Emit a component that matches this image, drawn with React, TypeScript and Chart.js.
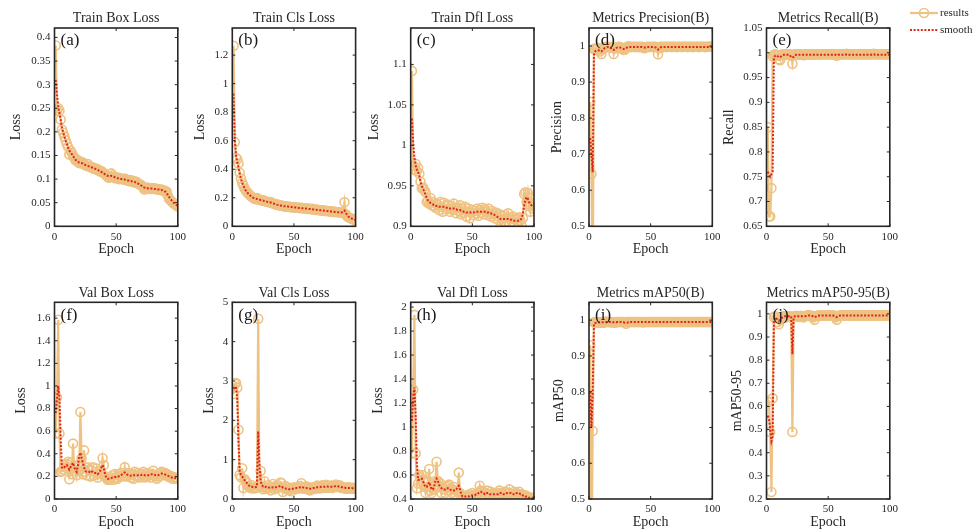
import React, { useEffect, useRef } from 'react';
import { Chart, registerables } from 'chart.js';

Chart.register(...registerables);

// ---------------- data ----------------
const epochs = [
  1, 2, 3, 4, 5, 6, 7, 8, 9, 10, 11, 12, 13, 14, 15, 16, 17, 18, 19, 20,
  21, 22, 23, 24, 25, 26, 27, 28, 29, 30, 31, 32, 33, 34, 35, 36, 37, 38, 39, 40,
  41, 42, 43, 44, 45, 46, 47, 48, 49, 50, 51, 52, 53, 54, 55, 56, 57, 58, 59, 60,
  61, 62, 63, 64, 65, 66, 67, 68, 69, 70, 71, 72, 73, 74, 75, 76, 77, 78, 79, 80,
  81, 82, 83, 84, 85, 86, 87, 88, 89, 90, 91, 92, 93, 94, 95, 96, 97, 98, 99, 100,
];
const epochTicks = [0, 50, 100];

const trainBoxResults = [
  0.383, 0.245, 0.250, 0.245, 0.226, 0.205, 0.198, 0.190, 0.182, 0.175,
  0.168, 0.152, 0.160, 0.155, 0.150, 0.145, 0.140, 0.142, 0.136, 0.134,
  0.137, 0.133, 0.135, 0.131, 0.130, 0.128, 0.132, 0.127, 0.126, 0.124,
  0.125, 0.122, 0.123, 0.120, 0.121, 0.118, 0.116, 0.117, 0.114, 0.113,
  0.110, 0.108, 0.105, 0.103, 0.106, 0.112, 0.108, 0.104, 0.102, 0.104,
  0.103, 0.100, 0.102, 0.101, 0.100, 0.099, 0.101, 0.098, 0.097, 0.096,
  0.098, 0.095, 0.097, 0.094, 0.093, 0.095, 0.092, 0.090, 0.089, 0.088,
  0.085, 0.083, 0.078, 0.080, 0.082, 0.080, 0.081, 0.079, 0.080, 0.081,
  0.079, 0.080, 0.078, 0.079, 0.078, 0.077, 0.078, 0.076, 0.074, 0.075,
  0.073, 0.064, 0.058, 0.055, 0.053, 0.050, 0.048, 0.046, 0.044, 0.042,
];
const trainBoxSmooth = [
  0.310, 0.280, 0.255, 0.240, 0.225, 0.210, 0.200, 0.190, 0.182, 0.175,
  0.167, 0.160, 0.157, 0.153, 0.149, 0.145, 0.141, 0.139, 0.137, 0.135,
  0.135, 0.134, 0.133, 0.131, 0.130, 0.129, 0.128, 0.127, 0.126, 0.125,
  0.124, 0.123, 0.122, 0.121, 0.120, 0.118, 0.117, 0.115, 0.114, 0.112,
  0.110, 0.108, 0.107, 0.106, 0.106, 0.107, 0.106, 0.105, 0.104, 0.103,
  0.102, 0.101, 0.101, 0.100, 0.100, 0.099, 0.099, 0.098, 0.097, 0.097,
  0.096, 0.096, 0.095, 0.094, 0.094, 0.093, 0.092, 0.090, 0.089, 0.087,
  0.085, 0.083, 0.082, 0.081, 0.081, 0.080, 0.080, 0.080, 0.080, 0.080,
  0.079, 0.079, 0.079, 0.078, 0.078, 0.077, 0.077, 0.076, 0.075, 0.073,
  0.070, 0.066, 0.062, 0.058, 0.055, 0.052, 0.049, 0.047, 0.045, 0.043,
];
const trainBoxTicks = [0, 0.05, 0.1, 0.15, 0.2, 0.25, 0.3, 0.35, 0.4];

const trainClsResults = [
  1.265, 0.590, 0.480, 0.470, 0.440, 0.375, 0.335, 0.305, 0.285, 0.265,
  0.250, 0.240, 0.228, 0.220, 0.212, 0.205, 0.200, 0.195, 0.190, 0.198,
  0.192, 0.186, 0.184, 0.180, 0.182, 0.178, 0.176, 0.172, 0.170, 0.168,
  0.170, 0.165, 0.160, 0.158, 0.155, 0.150, 0.152, 0.148, 0.145, 0.146,
  0.142, 0.140, 0.138, 0.141, 0.137, 0.135, 0.136, 0.134, 0.133, 0.135,
  0.132, 0.130, 0.131, 0.129, 0.128, 0.130, 0.127, 0.125, 0.126, 0.124,
  0.122, 0.125, 0.121, 0.120, 0.122, 0.118, 0.117, 0.115, 0.116, 0.114,
  0.113, 0.111, 0.112, 0.110, 0.108, 0.109, 0.107, 0.105, 0.106, 0.104,
  0.103, 0.101, 0.102, 0.100, 0.099, 0.100, 0.098, 0.097, 0.096, 0.095,
  0.168, 0.085, 0.072, 0.065, 0.060, 0.056, 0.052, 0.049, 0.046, 0.043,
];
const trainClsSmooth = [
  0.930, 0.620, 0.500, 0.450, 0.410, 0.370, 0.335, 0.305, 0.285, 0.265,
  0.250, 0.238, 0.228, 0.220, 0.212, 0.206, 0.200, 0.197, 0.194, 0.192,
  0.190, 0.187, 0.184, 0.182, 0.180, 0.178, 0.176, 0.173, 0.171, 0.169,
  0.167, 0.164, 0.161, 0.158, 0.155, 0.152, 0.150, 0.148, 0.146, 0.144,
  0.142, 0.141, 0.140, 0.139, 0.138, 0.137, 0.136, 0.135, 0.134, 0.133,
  0.132, 0.131, 0.130, 0.129, 0.128, 0.127, 0.126, 0.126, 0.125, 0.124,
  0.123, 0.122, 0.121, 0.120, 0.119, 0.118, 0.117, 0.116, 0.115, 0.114,
  0.113, 0.112, 0.111, 0.110, 0.109, 0.108, 0.107, 0.106, 0.105, 0.104,
  0.103, 0.102, 0.101, 0.100, 0.099, 0.098, 0.098, 0.097, 0.098, 0.105,
  0.110, 0.095, 0.080, 0.070, 0.063, 0.058, 0.054, 0.050, 0.047, 0.044,
];
const trainClsTicks = [0, 0.2, 0.4, 0.6, 0.8, 1, 1.2];

const trainDflResults = [
  1.092, 0.975, 0.970, 0.977, 0.968, 0.972, 0.965, 0.955, 0.947, 0.948,
  0.945, 0.942, 0.930, 0.932, 0.928, 0.935, 0.926, 0.930, 0.925, 0.923,
  0.928, 0.926, 0.920, 0.930, 0.924, 0.918, 0.929, 0.925, 0.921, 0.927,
  0.922, 0.918, 0.925, 0.920, 0.928, 0.922, 0.916, 0.923, 0.919, 0.926,
  0.915, 0.921, 0.917, 0.924, 0.912, 0.918, 0.922, 0.910, 0.917, 0.920,
  0.914, 0.919, 0.916, 0.922, 0.913, 0.920, 0.917, 0.923, 0.915, 0.921,
  0.918, 0.914, 0.922, 0.916, 0.912, 0.919, 0.915, 0.910, 0.917, 0.913,
  0.908, 0.915, 0.900, 0.912, 0.909, 0.914, 0.906, 0.911, 0.916, 0.902,
  0.910, 0.906, 0.912, 0.900, 0.908, 0.910, 0.905, 0.911, 0.907, 0.900,
  0.910, 0.940, 0.942, 0.930, 0.941, 0.925, 0.918, 0.935, 0.922, 0.928,
];
const trainDflSmooth = [
  1.033, 1.005, 0.985, 0.975, 0.970, 0.967, 0.962, 0.955, 0.950, 0.946,
  0.943, 0.939, 0.935, 0.932, 0.930, 0.929, 0.928, 0.927, 0.926, 0.925,
  0.925, 0.925, 0.924, 0.924, 0.924, 0.924, 0.924, 0.924, 0.923, 0.923,
  0.922, 0.922, 0.922, 0.922, 0.922, 0.921, 0.921, 0.920, 0.920, 0.920,
  0.919, 0.919, 0.918, 0.918, 0.917, 0.917, 0.917, 0.917, 0.917, 0.917,
  0.917, 0.918, 0.918, 0.918, 0.918, 0.918, 0.918, 0.918, 0.918, 0.918,
  0.918, 0.917, 0.917, 0.916, 0.916, 0.915, 0.915, 0.914, 0.913, 0.912,
  0.911, 0.910, 0.909, 0.909, 0.909, 0.909, 0.909, 0.909, 0.909, 0.908,
  0.908, 0.908, 0.907, 0.907, 0.907, 0.907, 0.907, 0.907, 0.908, 0.910,
  0.916, 0.925, 0.933, 0.936, 0.934, 0.930, 0.927, 0.926, 0.927, 0.928,
];
const trainDflTicks = [0.9, 0.95, 1, 1.05, 1.1];

const precisionResults = [
  0.845, 0.645, 0.300, 0.992, 0.990, 0.993, 0.995, 0.990, 0.985, 0.978,
  0.992, 0.996, 0.997, 0.998, 0.997, 0.998, 0.996, 0.997, 0.995, 0.978,
  0.993, 0.996, 0.997, 0.998, 0.997, 0.996, 0.994, 0.989, 0.990, 0.994,
  0.998, 0.999, 0.998, 0.997, 0.998, 0.998, 0.997, 0.998, 0.998, 0.997,
  0.998, 0.997, 0.998, 0.996, 0.994, 0.997, 0.998, 0.998, 0.997, 0.998,
  0.998, 0.997, 0.998, 0.998, 0.997, 0.977, 0.994, 0.998, 0.998, 0.997,
  0.998, 0.998, 0.997, 0.998, 0.998, 0.998, 0.997, 0.998, 0.998, 0.998,
  0.997, 0.998, 0.998, 0.998, 0.997, 0.998, 0.998, 0.998, 0.998, 0.997,
  0.998, 0.998, 0.998, 0.997, 0.998, 0.998, 0.998, 0.998, 0.997, 0.998,
  0.998, 0.998, 0.998, 0.997, 0.998, 0.998, 0.998, 0.998, 0.998, 0.998,
];
const precisionSmooth = [
  0.745, 0.700, 0.650, 0.975, 0.985, 0.988, 0.989, 0.988, 0.986, 0.985,
  0.988, 0.992, 0.995, 0.996, 0.997, 0.997, 0.996, 0.994, 0.990, 0.989,
  0.991, 0.994, 0.996, 0.996, 0.996, 0.995, 0.993, 0.992, 0.992, 0.994,
  0.996, 0.997, 0.997, 0.997, 0.997, 0.997, 0.997, 0.997, 0.997, 0.997,
  0.997, 0.997, 0.997, 0.996, 0.996, 0.996, 0.997, 0.997, 0.997, 0.997,
  0.997, 0.997, 0.997, 0.996, 0.993, 0.990, 0.993, 0.996, 0.997, 0.997,
  0.997, 0.997, 0.997, 0.997, 0.997, 0.997, 0.997, 0.997, 0.997, 0.997,
  0.997, 0.997, 0.997, 0.997, 0.997, 0.997, 0.997, 0.997, 0.997, 0.997,
  0.997, 0.997, 0.997, 0.997, 0.997, 0.997, 0.997, 0.997, 0.997, 0.997,
  0.997, 0.997, 0.997, 0.997, 0.997, 0.997, 0.997, 0.997, 0.997, 0.997,
];
const precisionTicks = [0.5, 0.6, 0.7, 0.8, 0.9, 1];

const recallResults = [
  0.850, 0.670, 0.670, 0.727, 0.993, 0.996, 0.997, 0.996, 0.994, 0.987,
  0.985, 0.995, 0.997, 0.997, 0.996, 0.997, 0.997, 0.996, 0.997, 0.995,
  0.978, 0.996, 0.997, 0.997, 0.996, 0.997, 0.997, 0.997, 0.996, 0.995,
  0.997, 0.997, 0.996, 0.997, 0.997, 0.997, 0.997, 0.996, 0.997, 0.997,
  0.997, 0.997, 0.997, 0.996, 0.997, 0.997, 0.997, 0.997, 0.997, 0.997,
  0.997, 0.997, 0.997, 0.997, 0.996, 0.997, 0.994, 0.997, 0.997, 0.997,
  0.997, 0.997, 0.997, 0.997, 0.998, 0.997, 0.997, 0.997, 0.997, 0.997,
  0.997, 0.997, 0.997, 0.997, 0.997, 0.997, 0.997, 0.997, 0.997, 0.997,
  0.997, 0.997, 0.997, 0.997, 0.997, 0.997, 0.998, 0.997, 0.997, 0.997,
  0.997, 0.997, 0.997, 0.997, 0.997, 0.997, 0.997, 0.997, 0.997, 0.997,
];
const recallSmooth = [
  0.760, 0.755, 0.750, 0.755, 0.760, 0.990, 0.994, 0.995, 0.993, 0.991,
  0.991, 0.993, 0.995, 0.996, 0.996, 0.996, 0.996, 0.996, 0.995, 0.991,
  0.990, 0.992, 0.995, 0.996, 0.996, 0.996, 0.996, 0.996, 0.996, 0.996,
  0.996, 0.996, 0.996, 0.996, 0.996, 0.996, 0.996, 0.996, 0.996, 0.996,
  0.996, 0.996, 0.996, 0.996, 0.996, 0.996, 0.996, 0.996, 0.996, 0.996,
  0.996, 0.996, 0.996, 0.996, 0.996, 0.996, 0.995, 0.996, 0.996, 0.996,
  0.996, 0.996, 0.996, 0.996, 0.997, 0.997, 0.996, 0.996, 0.996, 0.996,
  0.996, 0.996, 0.996, 0.996, 0.996, 0.996, 0.996, 0.996, 0.996, 0.996,
  0.996, 0.996, 0.996, 0.996, 0.996, 0.997, 0.997, 0.996, 0.996, 0.996,
  0.996, 0.996, 0.996, 0.996, 0.996, 0.996, 0.996, 0.996, 0.996, 0.996,
];
const recallTicks = [0.65, 0.7, 0.75, 0.8, 0.85, 0.9, 0.95, 1, 1.05];

const valBoxResults = [
  0.58, 0.90, 1.585, 0.58, 0.24, 0.245, 0.26, 0.30, 0.28, 0.31,
  0.33, 0.175, 0.32, 0.22, 0.49, 0.25, 0.28, 0.21, 0.30, 0.25,
  0.77, 0.36, 0.22, 0.43, 0.24, 0.21, 0.28, 0.26, 0.20, 0.25,
  0.28, 0.21, 0.24, 0.27, 0.19, 0.22, 0.25, 0.23, 0.36, 0.30,
  0.20, 0.19, 0.17, 0.18, 0.17, 0.19, 0.21, 0.17, 0.22, 0.19,
  0.18, 0.22, 0.20, 0.23, 0.21, 0.20, 0.28, 0.22, 0.20, 0.23,
  0.21, 0.19, 0.22, 0.18, 0.24, 0.21, 0.20, 0.23, 0.19, 0.22,
  0.21, 0.24, 0.19, 0.22, 0.20, 0.23, 0.21, 0.19, 0.22, 0.25,
  0.21, 0.20, 0.18, 0.22, 0.20, 0.23, 0.24, 0.22, 0.21, 0.23,
  0.22, 0.20, 0.21, 0.19, 0.20, 0.18, 0.19, 0.19, 0.18, 0.18,
];
const valBoxSmooth = [
  0.76, 0.88, 1.00, 0.90, 0.55, 0.28, 0.27, 0.28, 0.29, 0.30,
  0.28, 0.26, 0.28, 0.30, 0.32, 0.28, 0.26, 0.24, 0.30, 0.38,
  0.41, 0.36, 0.32, 0.28, 0.25, 0.24, 0.24, 0.24, 0.23, 0.24,
  0.24, 0.23, 0.23, 0.23, 0.22, 0.23, 0.25, 0.28, 0.30, 0.27,
  0.22, 0.19, 0.18, 0.18, 0.18, 0.185, 0.19, 0.19, 0.195, 0.195,
  0.20, 0.20, 0.205, 0.21, 0.22, 0.23, 0.235, 0.225, 0.215, 0.21,
  0.21, 0.205, 0.205, 0.21, 0.21, 0.21, 0.21, 0.21, 0.21, 0.21,
  0.215, 0.215, 0.21, 0.21, 0.21, 0.21, 0.21, 0.215, 0.22, 0.22,
  0.215, 0.21, 0.21, 0.21, 0.215, 0.22, 0.225, 0.225, 0.22, 0.215,
  0.21, 0.205, 0.20, 0.195, 0.19, 0.19, 0.185, 0.185, 0.18, 0.18,
];
const valBoxTicks = [0, 0.2, 0.4, 0.6, 0.8, 1, 1.2, 1.4, 1.6];

const valClsResults = [
  2.67, 2.93, 2.95, 2.83, 1.76, 0.61, 0.55, 0.78, 0.28, 0.50,
  0.45, 0.40, 0.33, 0.30, 0.28, 0.35, 0.27, 0.30, 0.28, 0.30,
  4.58, 0.32, 0.72, 0.30, 0.25, 0.45, 0.30, 0.26, 0.35, 0.28,
  0.22, 0.30, 0.38, 0.25, 0.32, 0.28, 0.35, 0.30, 0.42, 0.40,
  0.18, 0.28, 0.33, 0.25, 0.30, 0.22, 0.27, 0.20, 0.26, 0.30,
  0.25, 0.28, 0.30, 0.27, 0.33, 0.40, 0.30, 0.26, 0.28, 0.32,
  0.25, 0.29, 0.22, 0.25, 0.30, 0.28, 0.26, 0.31, 0.34, 0.29,
  0.27, 0.32, 0.35, 0.30, 0.28, 0.36, 0.33, 0.29, 0.31, 0.34,
  0.28, 0.30, 0.33, 0.37, 0.32, 0.30, 0.35, 0.31, 0.28, 0.30,
  0.27, 0.29, 0.26, 0.30, 0.28, 0.27, 0.29, 0.26, 0.28, 0.27,
];
const valClsSmooth = [
  2.80, 2.85, 2.85, 2.55, 1.45, 0.70, 0.62, 0.58, 0.52, 0.48,
  0.44, 0.40, 0.36, 0.33, 0.31, 0.31, 0.30, 0.30, 0.30, 0.32,
  1.72, 0.90, 0.45, 0.35, 0.32, 0.33, 0.31, 0.29, 0.30, 0.29,
  0.28, 0.29, 0.30, 0.29, 0.30, 0.30, 0.31, 0.32, 0.33, 0.32,
  0.29, 0.27, 0.27, 0.26, 0.26, 0.25, 0.25, 0.25, 0.26, 0.27,
  0.27, 0.28, 0.28, 0.29, 0.30, 0.31, 0.30, 0.29, 0.28, 0.28,
  0.27, 0.26, 0.26, 0.26, 0.27, 0.28, 0.28, 0.29, 0.30, 0.30,
  0.30, 0.31, 0.31, 0.31, 0.31, 0.32, 0.32, 0.31, 0.31, 0.31,
  0.31, 0.31, 0.32, 0.33, 0.33, 0.32, 0.32, 0.31, 0.30, 0.29,
  0.29, 0.28, 0.28, 0.28, 0.28, 0.28, 0.28, 0.27, 0.27, 0.27,
];
const valClsTicks = [0, 1, 2, 3, 4, 5];

const valDflResults = [
  0.78, 1.31, 1.935, 0.78, 0.49, 0.53, 0.60, 0.58, 0.60, 0.55,
  0.50, 0.45, 0.50, 0.55, 0.65, 0.47, 0.45, 0.50, 0.48, 0.55,
  0.71, 0.55, 0.50, 0.53, 0.45, 0.50, 0.48, 0.45, 0.50, 0.51,
  0.52, 0.47, 0.45, 0.48, 0.50, 0.44, 0.47, 0.46, 0.62, 0.45,
  0.43, 0.41, 0.42, 0.41, 0.42, 0.43, 0.41, 0.44, 0.42, 0.45,
  0.43, 0.42, 0.44, 0.43, 0.45, 0.51, 0.47, 0.44, 0.46, 0.43,
  0.45, 0.47, 0.44, 0.42, 0.46, 0.44, 0.45, 0.43, 0.42, 0.45,
  0.44, 0.47, 0.43, 0.45, 0.44, 0.42, 0.46, 0.44, 0.45, 0.48,
  0.43, 0.42, 0.44, 0.46, 0.44, 0.45, 0.44, 0.46, 0.43, 0.44,
  0.43, 0.42, 0.43, 0.41, 0.42, 0.41, 0.41, 0.40, 0.41, 0.41,
];
const valDflSmooth = [
  1.05, 1.25, 1.33, 1.10, 0.70, 0.56, 0.56, 0.57, 0.57, 0.55,
  0.52, 0.50, 0.50, 0.52, 0.54, 0.51, 0.48, 0.48, 0.50, 0.55,
  0.57, 0.55, 0.52, 0.50, 0.49, 0.48, 0.48, 0.48, 0.49, 0.49,
  0.49, 0.48, 0.47, 0.47, 0.47, 0.47, 0.48, 0.50, 0.51, 0.48,
  0.44, 0.42, 0.42, 0.42, 0.42, 0.42, 0.42, 0.43, 0.43, 0.43,
  0.43, 0.43, 0.44, 0.44, 0.45, 0.46, 0.46, 0.45, 0.45, 0.44,
  0.45, 0.45, 0.45, 0.44, 0.44, 0.44, 0.44, 0.44, 0.44, 0.44,
  0.44, 0.45, 0.45, 0.44, 0.44, 0.44, 0.44, 0.45, 0.45, 0.45,
  0.45, 0.44, 0.44, 0.44, 0.44, 0.45, 0.45, 0.45, 0.44, 0.44,
  0.43, 0.43, 0.42, 0.42, 0.42, 0.41, 0.41, 0.41, 0.41, 0.41,
];
const valDflTicks = [0.4, 0.6, 0.8, 1, 1.2, 1.4, 1.6, 1.8, 2];

const map50Results = [
  0.930, 0.300, 0.690, 0.994, 0.993, 0.992, 0.994, 0.995, 0.993, 0.995,
  0.994, 0.993, 0.995, 0.996, 0.995, 0.995, 0.995, 0.994, 0.995, 0.994,
  0.993, 0.995, 0.995, 0.995, 0.995, 0.995, 0.995, 0.995, 0.994, 0.990,
  0.995, 0.995, 0.995, 0.995, 0.995, 0.995, 0.995, 0.995, 0.995, 0.995,
  0.995, 0.995, 0.995, 0.994, 0.995, 0.995, 0.995, 0.995, 0.995, 0.995,
  0.995, 0.995, 0.995, 0.995, 0.995, 0.995, 0.995, 0.995, 0.995, 0.995,
  0.995, 0.995, 0.995, 0.995, 0.995, 0.995, 0.995, 0.995, 0.995, 0.995,
  0.995, 0.995, 0.995, 0.995, 0.995, 0.995, 0.995, 0.995, 0.995, 0.995,
  0.995, 0.995, 0.995, 0.995, 0.995, 0.995, 0.995, 0.995, 0.995, 0.995,
  0.995, 0.995, 0.995, 0.995, 0.995, 0.995, 0.995, 0.995, 0.995, 0.995,
];
const map50Smooth = [
  0.800, 0.700, 0.800, 0.990, 0.992, 0.993, 0.993, 0.994, 0.994, 0.994,
  0.994, 0.994, 0.994, 0.995, 0.995, 0.995, 0.995, 0.995, 0.994, 0.994,
  0.994, 0.994, 0.995, 0.995, 0.995, 0.995, 0.994, 0.994, 0.993, 0.993,
  0.993, 0.994, 0.994, 0.995, 0.995, 0.995, 0.995, 0.995, 0.995, 0.995,
  0.995, 0.995, 0.995, 0.995, 0.995, 0.995, 0.995, 0.995, 0.995, 0.995,
  0.995, 0.995, 0.995, 0.995, 0.995, 0.995, 0.995, 0.995, 0.995, 0.995,
  0.995, 0.995, 0.995, 0.995, 0.995, 0.995, 0.995, 0.995, 0.995, 0.995,
  0.995, 0.995, 0.995, 0.995, 0.995, 0.995, 0.995, 0.995, 0.995, 0.995,
  0.995, 0.995, 0.995, 0.995, 0.995, 0.995, 0.995, 0.995, 0.995, 0.995,
  0.995, 0.995, 0.995, 0.995, 0.995, 0.995, 0.995, 0.995, 0.995, 0.995,
];
const map50Ticks = [0.5, 0.6, 0.7, 0.8, 0.9, 1];

const map5095Results = [
  0.620, 0.620, 0.490, 0.230, 0.635, 0.985, 0.990, 0.980, 0.965, 0.955,
  0.975, 0.985, 0.990, 0.985, 0.990, 0.985, 0.990, 0.988, 0.990, 0.985,
  0.490, 0.990, 0.990, 0.992, 0.990, 0.988, 0.990, 0.992, 0.990, 0.985,
  0.990, 0.992, 0.993, 0.995, 0.993, 0.990, 0.992, 0.985, 0.975, 0.990,
  0.992, 0.993, 0.993, 0.994, 0.993, 0.993, 0.994, 0.993, 0.993, 0.994,
  0.993, 0.993, 0.994, 0.993, 0.993, 0.985, 0.975, 0.990, 0.993, 0.993,
  0.993, 0.994, 0.993, 0.993, 0.994, 0.993, 0.993, 0.994, 0.993, 0.993,
  0.994, 0.993, 0.993, 0.994, 0.993, 0.993, 0.994, 0.993, 0.993, 0.994,
  0.993, 0.993, 0.994, 0.993, 0.993, 0.994, 0.993, 0.993, 0.994, 0.993,
  0.993, 0.994, 0.993, 0.993, 0.994, 0.993, 0.993, 0.994, 0.993, 0.993,
];
const map5095Smooth = [
  0.560, 0.545, 0.500, 0.450, 0.470, 0.970, 0.985, 0.980, 0.975, 0.970,
  0.975, 0.980, 0.985, 0.988, 0.990, 0.990, 0.990, 0.990, 0.990, 0.990,
  0.825, 0.985, 0.990, 0.990, 0.990, 0.990, 0.990, 0.990, 0.990, 0.990,
  0.990, 0.991, 0.992, 0.993, 0.993, 0.992, 0.991, 0.988, 0.985, 0.988,
  0.991, 0.992, 0.993, 0.993, 0.993, 0.993, 0.993, 0.993, 0.993, 0.993,
  0.993, 0.993, 0.993, 0.993, 0.991, 0.988, 0.986, 0.989, 0.992, 0.993,
  0.993, 0.993, 0.993, 0.993, 0.993, 0.993, 0.993, 0.993, 0.993, 0.993,
  0.993, 0.993, 0.993, 0.993, 0.993, 0.993, 0.993, 0.993, 0.993, 0.993,
  0.993, 0.993, 0.993, 0.993, 0.993, 0.993, 0.993, 0.993, 0.993, 0.993,
  0.993, 0.993, 0.993, 0.993, 0.993, 0.993, 0.993, 0.993, 0.993, 0.993,
];
const map5095Ticks = [0.2, 0.3, 0.4, 0.5, 0.6, 0.7, 0.8, 0.9, 1];

const panelTitles = [
  'Train Box Loss', 'Train Cls Loss', 'Train Dfl Loss', 'Metrics Precision(B)', 'Metrics Recall(B)',
  'Val Box Loss', 'Val Cls Loss', 'Val Dfl Loss', 'Metrics mAP50(B)', 'Metrics mAP50-95(B)',
];
const panelTags = ['(a)', '(b)', '(c)', '(d)', '(e)', '(f)', '(g)', '(h)', '(i)', '(j)'];
const yLabels = ['Loss', 'Loss', 'Loss', 'Precision', 'Recall', 'Loss', 'Loss', 'Loss', 'mAP50', 'mAP50-95'];
const yMins = [0, 0, 0.9, 0.5, 0.65, 0, 0, 0.4, 0.5, 0.2];
const yMaxs = [0.42, 1.39, 1.145, 1.05, 1.05, 1.74, 5, 2.04, 1.05, 1.05];
const resultSeries = [
  trainBoxResults, trainClsResults, trainDflResults, precisionResults, recallResults,
  valBoxResults, valClsResults, valDflResults, map50Results, map5095Results,
];
const smoothSeries = [
  trainBoxSmooth, trainClsSmooth, trainDflSmooth, precisionSmooth, recallSmooth,
  valBoxSmooth, valClsSmooth, valDflSmooth, map50Smooth, map5095Smooth,
];
const yTickSets = [
  trainBoxTicks, trainClsTicks, trainDflTicks, precisionTicks, recallTicks,
  valBoxTicks, valClsTicks, valDflTicks, map50Ticks, map5095Ticks,
];
const seriesNames = ['results', 'smooth'];

// ---------------- layout & style ----------------
const CANVAS_W = 978;
const CANVAS_H = 532;
const PANEL_LEFT = [54.5, 232.3, 410.7, 589, 766.5];
const PANEL_W = 123.3;
const ROW_TOP = [28, 302.3];
const ROW_BOTTOM = [226.3, 499];
const Y_TITLE_OFFSET = [38, 31.6, 36.7, 31.7, 37, 33, 23, 32.3, 30, 29.4];
const Y_AXIS_W = 50;
const X_AXIS_H = 35;
const TITLE_SIZE = 14;
const TITLE_PB = 0.8;
const AXIS_TITLE_SIZE = 14;
const TICK_SIZE = 11;

const FONT = "'Liberation Serif', 'Times New Roman', serif";
const RESULT_COLOR = '#EEC282';
const SMOOTH_COLOR = '#E1261C';
const AXIS_COLOR = '#262626';

const fmt = (v: number | string) => String(Number(Number(v).toFixed(3)));

function boxPlugin(tag: string) {
  return {
    id: 'matlabBox',
    afterDatasetsDraw(chart: any) {
      const { ctx, chartArea: a, scales } = chart;
      ctx.save();
      ctx.strokeStyle = AXIS_COLOR;
      ctx.lineWidth = 1;
      const tl = 3;
      ctx.beginPath();
      for (const t of scales.x.ticks) {
        const px = scales.x.getPixelForValue(t.value);
        ctx.moveTo(px, a.bottom);
        ctx.lineTo(px, a.bottom - tl);
        ctx.moveTo(px, a.top);
        ctx.lineTo(px, a.top + tl);
      }
      for (const t of scales.y.ticks) {
        const py = scales.y.getPixelForValue(t.value);
        ctx.moveTo(a.left, py);
        ctx.lineTo(a.left + tl, py);
        ctx.moveTo(a.right, py);
        ctx.lineTo(a.right - tl, py);
      }
      ctx.stroke();
      ctx.lineWidth = 1.6;
      ctx.strokeRect(a.left, a.top, a.right - a.left, a.bottom - a.top);
      ctx.fillStyle = '#1a1a1a';
      ctx.font = `17px ${FONT}`;
      ctx.textAlign = 'left';
      ctx.textBaseline = 'middle';
      ctx.fillText(tag, a.left + 6, a.top + 13);
      ctx.restore();
    },
  };
}

const legendPlugin = {
  id: 'figLegend',
  afterDraw(chart: any) {
    const { ctx } = chart;
    const ds = chart.data.datasets;
    ctx.save();
    const x0 = 910;
    const x1 = 938;
    const rows = [13, 30];
    ds.forEach((d: any, i: number) => {
      const y = rows[i];
      ctx.strokeStyle = d.borderColor;
      ctx.lineWidth = d.borderWidth;
      ctx.setLineDash(d.borderDash || []);
      ctx.beginPath();
      ctx.moveTo(x0, y);
      ctx.lineTo(x1, y);
      ctx.stroke();
      ctx.setLineDash([]);
      if (d.pointRadius > 0) {
        ctx.lineWidth = d.pointBorderWidth;
        ctx.beginPath();
        ctx.arc((x0 + x1) / 2, y, d.pointRadius, 0, Math.PI * 2);
        ctx.stroke();
      }
      ctx.fillStyle = AXIS_COLOR;
      ctx.font = `11px ${FONT}`;
      ctx.textAlign = 'left';
      ctx.textBaseline = 'middle';
      ctx.fillText(d.label, x1 + 2, y);
    });
    ctx.restore();
  },
};

function buildConfig(i: number): any {
  const row = i < 5 ? 0 : 1;
  const col = i % 5;
  const left = PANEL_LEFT[col];
  const top = ROW_TOP[row];
  const bottom = ROW_BOTTOM[row];
  const titleH = TITLE_SIZE * 1.2 + TITLE_PB;
  const yTicks = yTickSets[i];
  const results = resultSeries[i];
  const smooth = smoothSeries[i];
  const yTitlePad = Y_AXIS_W - Y_TITLE_OFFSET[i] - (AXIS_TITLE_SIZE * 1.2) / 2;
  return {
    type: 'line',
    data: {
      datasets: [
        {
          label: seriesNames[0],
          data: epochs.map((e, k) => ({ x: e, y: results[k] })),
          borderColor: RESULT_COLOR,
          borderWidth: 2.2,
          pointStyle: 'circle',
          pointRadius: 4.5,
          pointBorderWidth: 1.6,
          pointBorderColor: RESULT_COLOR,
          pointBackgroundColor: 'rgba(255,255,255,0)',
          tension: 0,
          order: 1,
        },
        {
          label: seriesNames[1],
          data: epochs.map((e, k) => ({ x: e, y: smooth[k] })),
          borderColor: SMOOTH_COLOR,
          borderWidth: 2,
          borderDash: [2, 1.6],
          pointRadius: 0,
          tension: 0,
          order: 0,
        },
      ],
    },
    options: {
      responsive: false,
      animation: false,
      events: [],
      layout: {
        padding: {
          left: left - Y_AXIS_W,
          right: CANVAS_W - (left + PANEL_W),
          top: top - titleH,
          bottom: CANVAS_H - bottom - X_AXIS_H,
        },
      },
      plugins: {
        legend: { display: false },
        tooltip: { enabled: false },
        title: {
          display: true,
          text: panelTitles[i],
          fullSize: false,
          color: AXIS_COLOR,
          font: { family: FONT, size: TITLE_SIZE, weight: 'normal' },
          padding: { top: 0, bottom: TITLE_PB },
        },
      },
      scales: {
        x: {
          type: 'linear',
          min: 0,
          max: 100,
          afterBuildTicks: (s: any) => {
            s.ticks = epochTicks.map((v) => ({ value: v }));
          },
          afterFit: (s: any) => {
            s.height = X_AXIS_H;
          },
          grid: { display: false, drawTicks: false },
          border: { display: false },
          ticks: {
            padding: 4,
            color: AXIS_COLOR,
            autoSkip: false,
            maxRotation: 0,
            font: { family: FONT, size: TICK_SIZE },
            callback: (v: any) => fmt(v),
          },
          title: {
            display: true,
            text: 'Epoch',
            color: AXIS_COLOR,
            font: { family: FONT, size: AXIS_TITLE_SIZE },
            padding: { top: 0, bottom: X_AXIS_H - (AXIS_TITLE_SIZE * 1.2) / 2 - 23 },
          },
        },
        y: {
          type: 'linear',
          min: yMins[i],
          max: yMaxs[i],
          afterBuildTicks: (s: any) => {
            s.ticks = yTicks.map((v) => ({ value: v }));
          },
          afterFit: (s: any) => {
            s.width = Y_AXIS_W;
          },
          grid: { display: false, drawTicks: false },
          border: { display: false },
          ticks: {
            padding: 4,
            color: AXIS_COLOR,
            autoSkip: false,
            font: { family: FONT, size: TICK_SIZE },
            callback: (v: any) => fmt(v),
          },
          title: {
            display: true,
            text: yLabels[i],
            color: AXIS_COLOR,
            font: { family: FONT, size: AXIS_TITLE_SIZE },
            padding: { top: yTitlePad, bottom: 0 },
          },
        },
      },
    },
    plugins: i === 4 ? [boxPlugin(panelTags[i]), legendPlugin] : [boxPlugin(panelTags[i])],
  };
}

function Panel({ index }: { index: number }) {
  const ref = useRef<HTMLCanvasElement>(null);
  useEffect(() => {
    const chart = new Chart(ref.current as HTMLCanvasElement, buildConfig(index));
    return () => chart.destroy();
  }, [index]);
  return (
    <canvas
      ref={ref}
      width={CANVAS_W}
      height={CANVAS_H}
      style={{ position: 'absolute', left: 0, top: 0 }}
    />
  );
}

export default function App() {
  return (
    <div
      style={{
        position: 'absolute',
        left: 0,
        top: 0,
        width: CANVAS_W,
        height: CANVAS_H,
        background: '#ffffff',
        overflow: 'hidden',
      }}
    >
      {panelTitles.map((_, i) => (
        <Panel key={i} index={i} />
      ))}
    </div>
  );
}
